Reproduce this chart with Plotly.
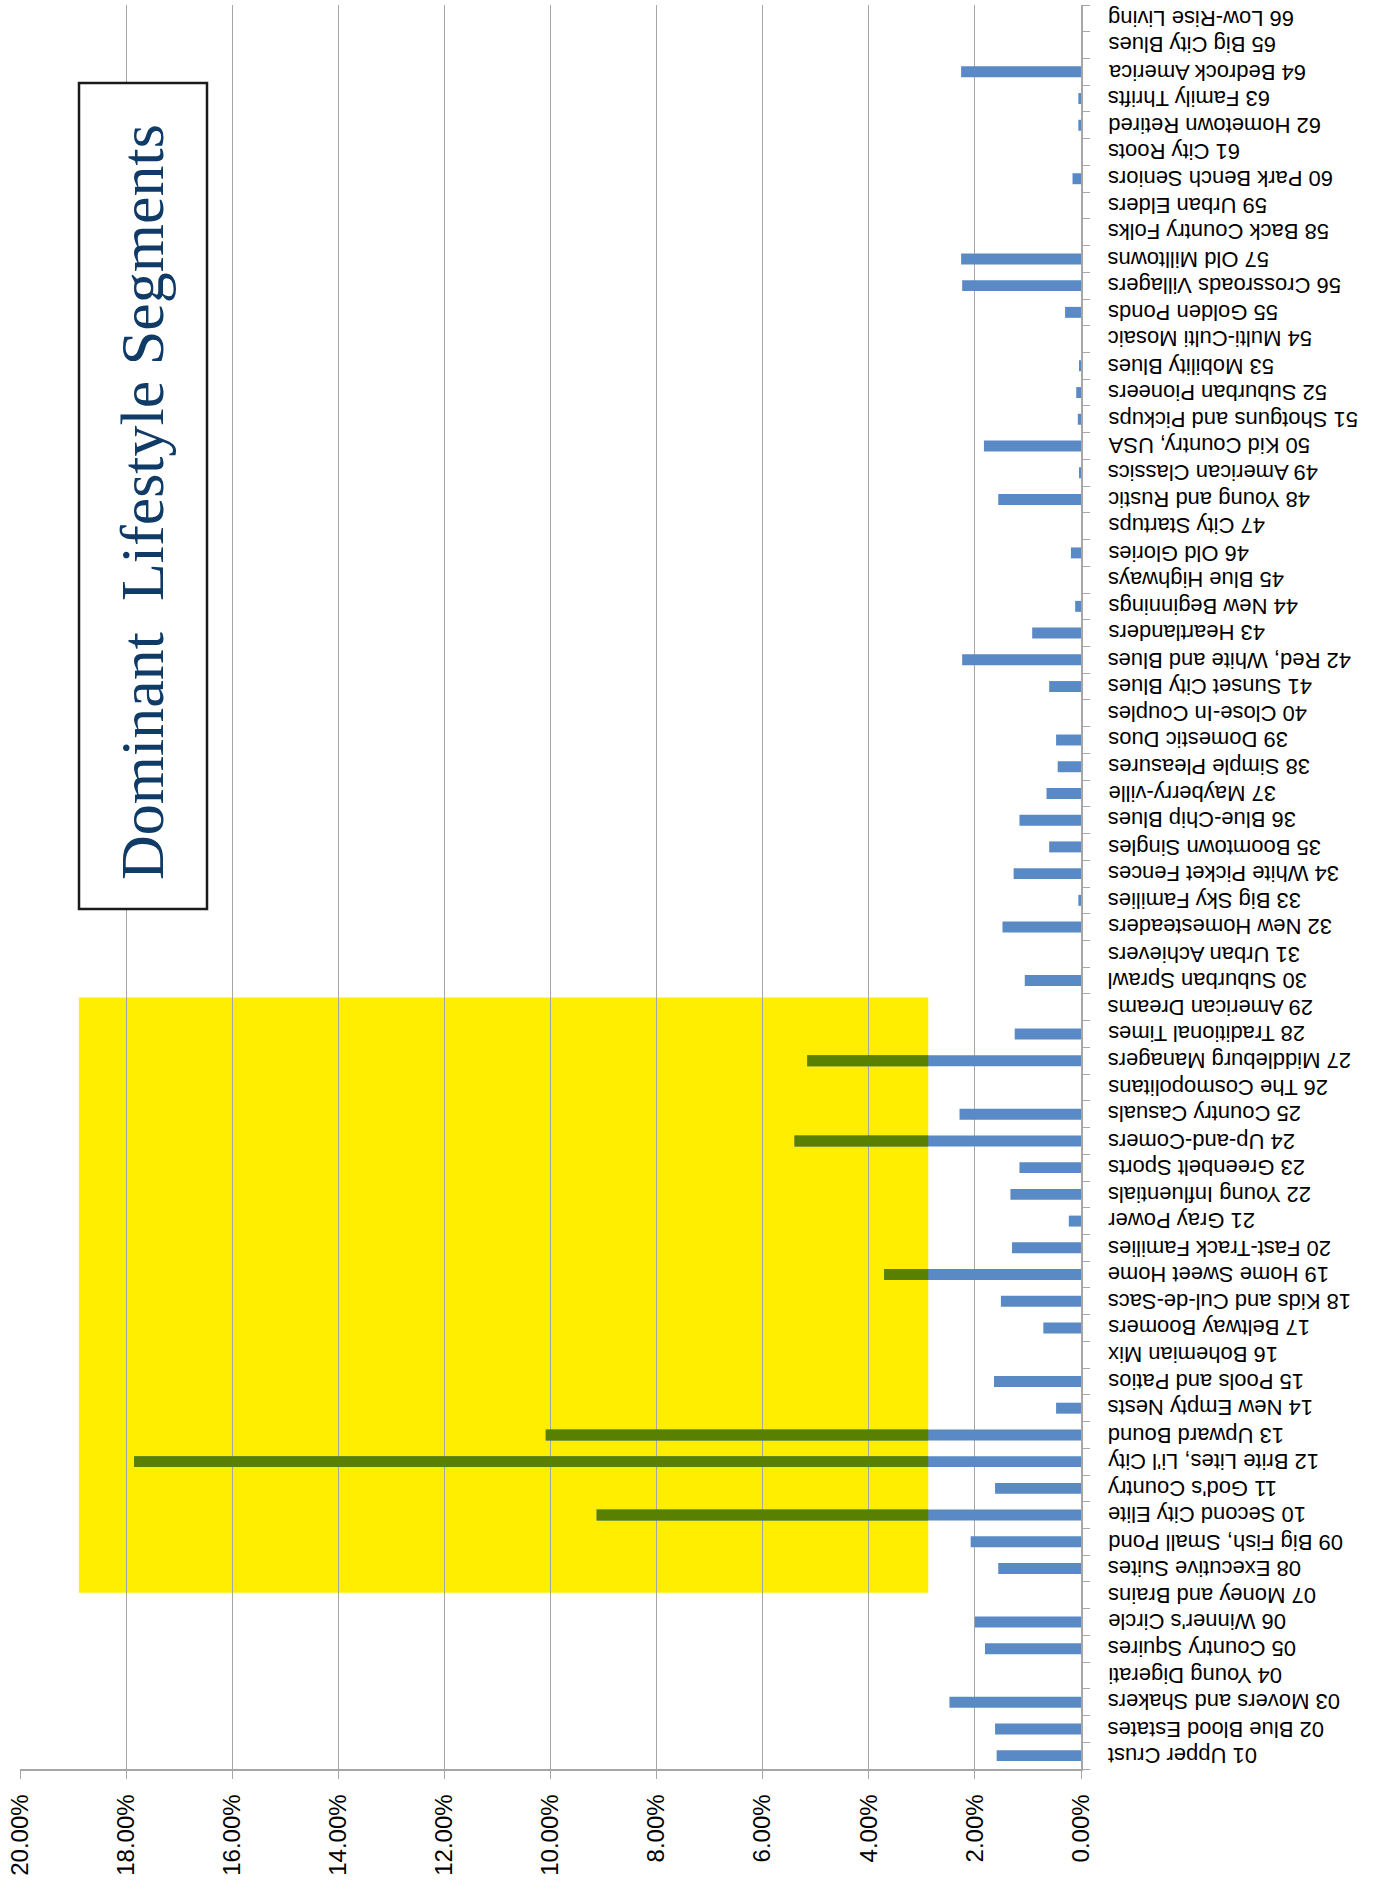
import plotly.graph_objects as go

# ---------------- data ----------------
segments = [
    "01 Upper Crust", "02 Blue Blood Estates", "03 Movers and Shakers", "04 Young Digerati",
    "05 Country Squires", "06 Winner's Circle", "07 Money and Brains", "08 Executive Suites",
    "09 Big Fish, Small Pond", "10 Second City Elite", "11 God's Country", "12 Brite Lites, Li'l City",
    "13 Upward Bound", "14 New Empty Nests", "15 Pools and Patios", "16 Bohemian Mix",
    "17 Beltway Boomers", "18 Kids and Cul-de-Sacs", "19 Home Sweet Home", "20 Fast-Track Families",
    "21 Gray Power", "22 Young Influentials", "23 Greenbelt Sports", "24 Up-and-Comers",
    "25 Country Casuals", "26 The Cosmopolitans", "27 Middleburg Managers", "28 Traditional Times",
    "29 American Dreams", "30 Suburban Sprawl", "31 Urban Achievers", "32 New Homesteaders",
    "33 Big Sky Families", "34 White Picket Fences", "35 Boomtown Singles", "36 Blue-Chip Blues",
    "37 Mayberry-ville", "38 Simple Pleasures", "39 Domestic Duos", "40 Close-In Couples",
    "41 Sunset City Blues", "42 Red, White and Blues", "43 Heartlanders", "44 New Beginnings",
    "45 Blue Highways", "46 Old Glories", "47 City Startups", "48 Young and Rustic",
    "49 American Classics", "50 Kid Country, USA", "51 Shotguns and Pickups", "52 Suburban Pioneers",
    "53 Mobility Blues", "54 Multi-Culti Mosaic", "55 Golden Ponds", "56 Crossroads Villagers",
    "57 Old Milltowns", "58 Back Country Folks", "59 Urban Elders", "60 Park Bench Seniors",
    "61 City Roots", "62 Hometown Retired", "63 Family Thrifts", "64 Bedrock America",
    "65 Big City Blues", "66 Low-Rise Living",
]

shares = [
    0.0159, 0.0162, 0.0248, 0.0000, 0.0181, 0.0200, 0.0000, 0.0156,
    0.0208, 0.0913, 0.0162, 0.1785, 0.1009, 0.0047, 0.0164, 0.0000,
    0.0071, 0.0151, 0.0371, 0.0130, 0.0023, 0.0133, 0.0116, 0.0540,
    0.0229, 0.0000, 0.0516, 0.0125, 0.0000, 0.0106, 0.0000, 0.0148,
    0.0005, 0.0127, 0.0060, 0.0116, 0.0065, 0.0044, 0.0047, 0.0000,
    0.0060, 0.0224, 0.0092, 0.0011, 0.0000, 0.0019, 0.0000, 0.0156,
    0.0003, 0.0183, 0.0006, 0.0009, 0.0003, 0.0000, 0.0030, 0.0224,
    0.0226, 0.0000, 0.0000, 0.0016, 0.0000, 0.0005, 0.0005, 0.0226,
    0.0000, 0.0000,
]

# highlighted (yellow) region: value range and category-index range
highlight_x = [0.0288, 0.1889]
highlight_y = [6.09, 28.37]

title_text = "Dominant\u00a0 Lifestyle Segments"

# ---------------- styling ----------------
W, H = 1384, 1889
ML, MR, MT, MB = 20, 303, 5, 120
PW, PH = W - ML - MR, H - MT - MB

BLUE = "#5A8AC6"
GREEN = "#5A8000"
YELLOW = "#FFEE00"
GRID = "#A6A6A6"


def px_to_paper_x(px):
    return (px - ML) / PW


def px_to_paper_y(py):
    return (H - MB - py) / PH


fig = go.Figure()

fig.add_trace(go.Bar(
    y=segments, x=shares, orientation="h",
    marker=dict(color=BLUE, line=dict(width=0)),
    showlegend=False,
))

# part of the bars lying inside the highlighted area
ov_y, ov_x = [], []
for i, (s, v) in enumerate(zip(segments, shares)):
    if highlight_y[0] <= i <= highlight_y[1] and v > highlight_x[0]:
        ov_y.append(s)
        ov_x.append(min(v, highlight_x[1]) - highlight_x[0])
fig.add_trace(go.Bar(
    y=ov_y, x=ov_x, base=highlight_x[0], orientation="h",
    marker=dict(color=GREEN, line=dict(width=0)),
    showlegend=False,
))

shapes = [
    dict(type="rect", xref="x", yref="y",
         x0=highlight_x[0], x1=highlight_x[1], y0=highlight_y[0], y1=highlight_y[1],
         fillcolor=YELLOW, line=dict(width=0), layer="below"),
    dict(type="rect", xref="paper", yref="paper",
         x0=px_to_paper_x(79), x1=px_to_paper_x(207),
         y0=px_to_paper_y(909), y1=px_to_paper_y(83),
         fillcolor="white", line=dict(color="#1A1A1A", width=2.5), layer="above"),
]

annotations = [
    dict(text=title_text, xref="paper", yref="paper",
         x=px_to_paper_x(142), y=px_to_paper_y(502),
         xanchor="center", yanchor="middle", textangle=-90, showarrow=False,
         font=dict(family="Liberation Serif, Times New Roman, serif", size=62, color="#0F3B66")),
]
for s in segments:
    annotations.append(dict(
        text=s, xref="paper", yref="y", x=px_to_paper_x(1106), y=s,
        xanchor="left", yanchor="middle", textangle=180, showarrow=False,
        font=dict(family="Liberation Sans, Arial, sans-serif", size=22, color="#000000"),
    ))

fig.update_layout(
    width=W, height=H,
    margin=dict(l=ML, r=MR, t=MT, b=MB, pad=0),
    paper_bgcolor="white", plot_bgcolor="white",
    barmode="overlay", bargap=0.59,
    shapes=shapes, annotations=annotations,
    showlegend=False,
)

fig.update_xaxes(
    range=[0.2, 0], autorange=False, dtick=0.02, tick0=0, tickformat=".2%",
    tickangle=-90, ticks="outside", ticklen=8, tickcolor=GRID, tickwidth=1.3,
    ticklabelstandoff=6,
    showgrid=True, gridcolor=GRID, gridwidth=1.3,
    showline=True, linecolor=GRID, linewidth=1.5, zeroline=False,
    tickfont=dict(family="Liberation Sans, Arial, sans-serif", size=24, color="#000000"),
)
fig.update_yaxes(
    type="category", categoryorder="array", categoryarray=segments,
    range=[-0.5, len(segments) - 0.5], autorange=False,
    side="right", showticklabels=False,
    ticks="outside", tickson="boundaries", ticklen=7, tickcolor=GRID, tickwidth=1.3,
    showline=True, linecolor=GRID, linewidth=1.5, showgrid=False, zeroline=False,
)

fig.write_html(
    "out.html",
    config={"displayModeBar": False},
    post_script="document.body.style.margin='0';document.body.style.padding='0';"
                "document.body.style.overflow='hidden';",
)
